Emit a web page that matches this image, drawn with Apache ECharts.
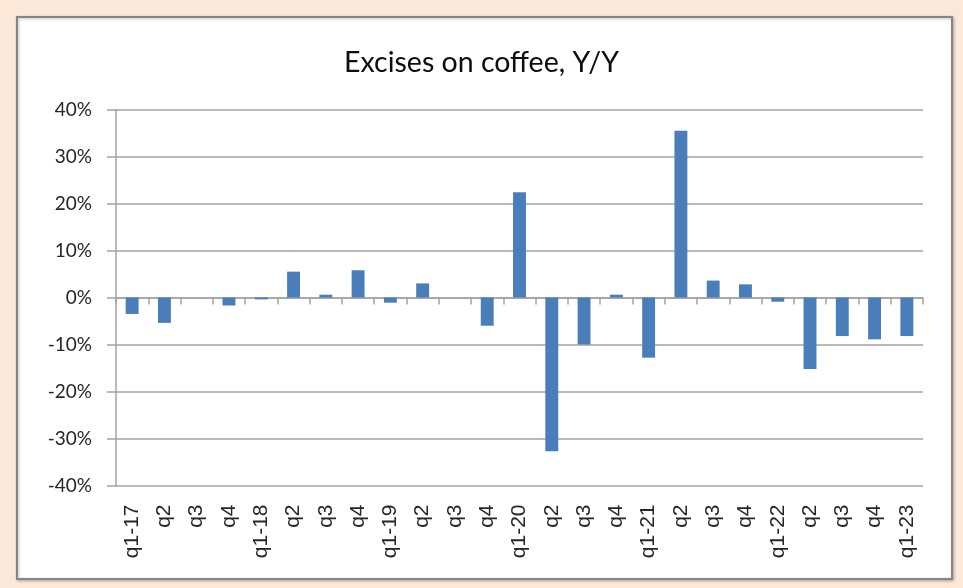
<!DOCTYPE html>
<html>
<head>
<meta charset="utf-8">
<script src="https://cdn.jsdelivr.net/npm/echarts@6/dist/echarts.min.js"></script>
<style>
  html, body { margin: 0; padding: 0; background: #fce8d9; }
  #chart { width: 963px; height: 588px; }
</style>
</head>
<body>
<div id="chart"></div>
<script>
// Quarterly labels along the category axis
const quarters = [
  'q1-17', 'q2', 'q3', 'q4',
  'q1-18', 'q2', 'q3', 'q4',
  'q1-19', 'q2', 'q3', 'q4',
  'q1-20', 'q2', 'q3', 'q4',
  'q1-21', 'q2', 'q3', 'q4',
  'q1-22', 'q2', 'q3', 'q4',
  'q1-23'
];

// Year-over-year change in coffee excise revenue, percent
const yoyChange = [
  -3.5, -5.4, 0, -1.7,
  -0.4, 5.5, 0.6, 5.8,
  -1.1, 3.0, 0, -6.0,
  22.4, -32.7, -10.0, 0.6,
  -12.8, 35.5, 3.6, 2.8,
  -0.9, -15.2, -8.2, -8.9,
  -8.2
];

// Value axis range and step, percent
const yMin = -40;
const yMax = 40;
const yStep = 10;

const chart = echarts.init(document.getElementById('chart'));

const gridColor = '#a3a3a3';

chart.setOption({
  backgroundColor: '#fce8d9',
  animation: false,
  graphic: [{
    type: 'rect',
    z: -10,
    shape: { x: 17, y: 17, width: 935, height: 562 },
    style: {
      fill: '#ffffff',
      stroke: '#858585',
      lineWidth: 2,
      shadowColor: 'rgba(0,0,0,0.25)',
      shadowBlur: 3,
      shadowOffsetX: 1,
      shadowOffsetY: 1
    }
  }],
  title: {
    text: 'Excises on coffee, Y/Y',
    left: 'center',
    top: 43,
    textStyle: {
      fontFamily: 'Lato',
      fontSize: 28.5,
      fontWeight: 'normal',
      color: '#0d0d0d'
    }
  },
  grid: {
    left: 116,
    right: 40,
    top: 109.5,
    bottom: 102.5,
    containLabel: false
  },
  xAxis: [{
    type: 'category',
    data: quarters,
    position: 'bottom',
    axisLine: { onZero: true, lineStyle: { color: gridColor, width: 1.5 } },
    axisTick: { show: true, interval: 0, length: 7, lineStyle: { color: gridColor, width: 1.5 } },
    axisLabel: { show: false },
    splitLine: { show: false }
  }, {
    type: 'category',
    data: quarters,
    position: 'bottom',
    axisLine: { show: false, onZero: false },
    axisTick: { show: false },
    axisLabel: {
      interval: 0,
      rotate: 90,
      margin: 19,
      fontFamily: 'Liberation Sans',
      fontSize: 21,
      color: '#262626'
    },
    splitLine: { show: false }
  }],
  yAxis: {
    type: 'value',
    min: yMin,
    max: yMax,
    interval: yStep,
    axisLine: { show: true, onZero: false, lineStyle: { color: gridColor, width: 1.5 } },
    axisTick: { show: true, length: 9, lineStyle: { color: gridColor, width: 1.5 } },
    axisLabel: {
      formatter: '{value}%',
      margin: 24,
      fontFamily: 'Lato',
      fontSize: 19,
      color: '#262626'
    },
    splitLine: { show: true, lineStyle: { color: gridColor, width: 1.5 } }
  },
  series: [{
    type: 'bar',
    xAxisIndex: 0,
    data: yoyChange,
    barWidth: '40%',
    itemStyle: { color: '#4a7ebb' }
  }]
});
</script>
</body>
</html>
